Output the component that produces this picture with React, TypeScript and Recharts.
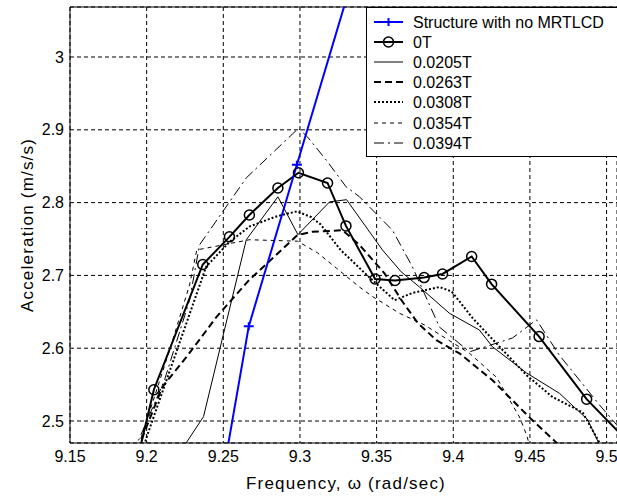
import React from 'react';
import { LineChart, Line, XAxis, YAxis, CartesianGrid, Legend, ReferenceLine, Label } from 'recharts';

// ---- axis ticks ----
const xTicks = [9.15, 9.2, 9.25, 9.3, 9.35, 9.4, 9.45, 9.5];
const xTickLabels = ['9.15', '9.2', '9.25', '9.3', '9.35', '9.4', '9.45', '9.5'];
const yTicks = [2.5, 2.6, 2.7, 2.8, 2.9, 3];
const yTickLabels = ['2.5', '2.6', '2.7', '2.8', '2.9', '3'];

const X_MIN = 9.15;
const X_MAX = 9.5068;
const Y_MIN = 2.4698;
const Y_MAX = 3.0687;

const seriesNames = ['Structure with no MRTLCD', '0T', '0.0205T', '0.0263T', '0.0308T', '0.0354T', '0.0394T'];

// ---- series values (frequency rad/sec, acceleration m/s/s) ----
const freqNoDamper = [9.235, 9.2666, 9.298, 9.3296];
const accNoDamper = [2.248, 2.63, 2.852, 3.075];

const freq0T = [9.1736, 9.2047, 9.2366, 9.254, 9.267, 9.2856, 9.299, 9.318, 9.33, 9.349, 9.362, 9.381, 9.393, 9.412, 9.425, 9.456, 9.487, 9.518];
const acc0T = [2.266, 2.543, 2.715, 2.753, 2.783, 2.82, 2.841, 2.827, 2.768, 2.695, 2.693, 2.697, 2.702, 2.726, 2.688, 2.616, 2.53, 2.463];

const freq0205 = [9.2214, 9.2371, 9.2497, 9.265, 9.2856, 9.2987, 9.3193, 9.3304, 9.3538, 9.366, 9.378, 9.3975, 9.417, 9.4256, 9.4478, 9.4693, 9.4876, 9.4987];
const acc0205 = [2.456, 2.506, 2.616, 2.749, 2.808, 2.756, 2.801, 2.804, 2.735, 2.705, 2.684, 2.648, 2.625, 2.602, 2.566, 2.538, 2.502, 2.453];

const freq0263 = [9.193, 9.1973, 9.2103, 9.226, 9.2456, 9.267, 9.2984, 9.308, 9.3278, 9.3388, 9.3551, 9.3662, 9.3767, 9.389, 9.404, 9.4256, 9.4497, 9.467, 9.475];
const acc0263 = [2.43, 2.478, 2.547, 2.588, 2.643, 2.694, 2.7555, 2.76, 2.762, 2.742, 2.703, 2.666, 2.635, 2.611, 2.593, 2.556, 2.505, 2.471, 2.455];

const freq0308 = [9.195, 9.2, 9.2388, 9.254, 9.267, 9.2845, 9.298, 9.3075, 9.3135, 9.3265, 9.3439, 9.3617, 9.3734, 9.391, 9.3989, 9.4128, 9.4302, 9.4478, 9.4647, 9.4843, 9.4954, 9.5];
const acc0308 = [2.44, 2.478, 2.712, 2.746, 2.767, 2.781, 2.788, 2.78, 2.77, 2.735, 2.7, 2.666, 2.676, 2.684, 2.678, 2.641, 2.602, 2.563, 2.533, 2.512, 2.47, 2.45];

const freq0354 = [9.19, 9.1953, 9.215, 9.228, 9.2327, 9.267, 9.2984, 9.3115, 9.3238, 9.3388, 9.3473, 9.3649, 9.3812, 9.4106, 9.4282, 9.4432, 9.4478, 9.452];
const acc0354 = [2.4, 2.47, 2.5975, 2.687, 2.735, 2.749, 2.747, 2.731, 2.71, 2.684, 2.671, 2.648, 2.632, 2.593, 2.56, 2.5055, 2.481, 2.45];

const freq0394 = [9.19, 9.194, 9.2116, 9.228, 9.2345, 9.265, 9.299, 9.305, 9.3173, 9.33, 9.3388, 9.3604, 9.3734, 9.391, 9.4106, 9.4386, 9.4543, 9.469, 9.4954, 9.5065, 9.515];
const acc0394 = [2.4, 2.47, 2.556, 2.666, 2.742, 2.834, 2.902, 2.89, 2.858, 2.822, 2.808, 2.762, 2.7115, 2.629, 2.595, 2.614, 2.639, 2.591, 2.522, 2.495, 2.47];

const toRows = (f: number[], a: number[]) => f.map((v, i) => ({ f: v, a: a[i] }));

const FONT = '"Liberation Sans", Arial, Helvetica, sans-serif';

const inRange = (p: any) =>
  p && p.f >= X_MIN && p.f <= X_MAX && p.a >= Y_MIN && p.a <= Y_MAX;

const CircleDot = (props: any) => {
  const { cx, cy, payload, index } = props;
  if (!inRange(payload) || cx == null || cy == null) return <g key={`c-${index}`} />;
  return <circle key={`c-${index}`} cx={cx} cy={cy} r={5} fill="none" stroke="#000" strokeWidth={1.5} />;
};

const PlusDot = (props: any) => {
  const { cx, cy, payload, index } = props;
  if (!inRange(payload) || cx == null || cy == null) return <g key={`p-${index}`} />;
  return (
    <path
      key={`p-${index}`}
      d={`M${cx - 5},${cy}H${cx + 5}M${cx},${cy - 4}V${cy + 4}`}
      stroke="#0000ff"
      strokeWidth={2}
      fill="none"
    />
  );
};

const legendStyles = [
  { stroke: '#0000ff', width: 2, dash: undefined as string | undefined, marker: 'plus' },
  { stroke: '#000', width: 2, dash: undefined, marker: 'circle' },
  { stroke: '#000', width: 1, dash: undefined, marker: '' },
  { stroke: '#000', width: 2, dash: '7 4', marker: '' },
  { stroke: '#000', width: 2, dash: '2 2', marker: '' },
  { stroke: '#000', width: 1, dash: '4 4', marker: '' },
  { stroke: '#000', width: 1, dash: '10 4 2 4', marker: '' },
];

const legendRowY = [15, 35, 55, 75, 95, 116, 136];

const LegendBox = () => (
  <svg width={251} height={151} style={{ display: 'block' }}>
    <rect x={0.5} y={0.5} width={300} height={149} fill="#fff" stroke="#000" strokeWidth={1} />
    {seriesNames.map((name, i) => {
      const s = legendStyles[i];
      const y = legendRowY[i];
      return (
        <g key={name}>
          <line x1={8} x2={37} y1={y} y2={y} stroke={s.stroke} strokeWidth={s.width} strokeDasharray={s.dash} />
          {s.marker === 'circle' && <circle cx={22.5} cy={y} r={5} fill="none" stroke="#000" strokeWidth={1.5} />}
          {s.marker === 'plus' && (
            <path d={`M17.5,${y}H27.5M22.5,${y - 4}V${y + 4}`} stroke="#0000ff" strokeWidth={2} />
          )}
          <text x={47} y={y + 5.5} fontSize={16} fontFamily={FONT} fill="#000">
            {name}
          </text>
        </g>
      );
    })}
  </svg>
);

export default function App() {
  const lines = [
    { key: 'nod', data: toRows(freqNoDamper, accNoDamper), stroke: '#0000ff', w: 2, dash: undefined as string | undefined, dot: PlusDot },
    { key: 't0', data: toRows(freq0T, acc0T), stroke: '#000', w: 2, dash: undefined, dot: CircleDot },
    { key: 't0205', data: toRows(freq0205, acc0205), stroke: '#000', w: 1, dash: undefined, dot: null },
    { key: 't0263', data: toRows(freq0263, acc0263), stroke: '#000', w: 2, dash: '7 4', dot: null },
    { key: 't0308', data: toRows(freq0308, acc0308), stroke: '#000', w: 2, dash: '2 2', dot: null },
    { key: 't0354', data: toRows(freq0354, acc0354), stroke: '#000', w: 1, dash: '4 4', dot: null },
    { key: 't0394', data: toRows(freq0394, acc0394), stroke: '#000', w: 1, dash: '10 4 2 4', dot: null },
  ];
  // draw order: thin lines first, then thick, then blue on top
  const order = ['t0205', 't0354', 't0394', 't0263', 't0308', 't0', 'nod'];

  return (
    <div style={{ position: 'absolute', left: 0, top: 0, width: 617, height: 497, overflow: 'hidden', background: '#fff' }}>
      <LineChart width={617} height={497} margin={{ top: 7, right: 0, bottom: 0, left: 0 }}>
        <CartesianGrid stroke="#000" strokeDasharray="4 3" strokeWidth={1} />
        <XAxis
          type="number"
          dataKey="f"
          domain={[X_MIN, X_MAX]}
          allowDataOverflow
          ticks={xTicks}
          tickFormatter={(v: number) => xTickLabels[xTicks.indexOf(v)] ?? String(v)}
          height={54}
          tickLine={false}
          axisLine={{ stroke: '#000', strokeWidth: 1 }}
          tick={{ fontSize: 16, fill: '#000', fontFamily: FONT }}
          tickSize={6}
          tickMargin={2}
        >
          <Label
            content={() => (
              <text x={346} y={489} textAnchor="middle" fontSize={17} letterSpacing={1.2} fontFamily={FONT} fill="#000">
                Frequency, ω (rad/sec)
              </text>
            )}
          />
        </XAxis>
        <YAxis
          type="number"
          dataKey="a"
          domain={[Y_MIN, Y_MAX]}
          allowDataOverflow
          ticks={yTicks}
          tickFormatter={(v: number) => yTickLabels[yTicks.indexOf(v)] ?? String(v)}
          width={70}
          tickLine={false}
          axisLine={{ stroke: '#000', strokeWidth: 1 }}
          tick={{ fontSize: 16, fill: '#000', fontFamily: FONT }}
          tickSize={6}
          tickMargin={0}
        >
          <Label
            content={() => (
              <text
                transform="translate(33,225) rotate(-90)"
                x={0}
                y={0}
                textAnchor="middle"
                fontSize={17}
                letterSpacing={1.2}
                fontFamily={FONT}
                fill="#000"
              >
                Acceleration (m/s/s)
              </text>
            )}
          />
        </YAxis>
        <ReferenceLine y={Y_MAX} stroke="#000" strokeWidth={1} />
        {order.map((k) => {
          const l = lines.find((x) => x.key === k)!;
          return (
            <Line
              key={l.key}
              data={l.data}
              dataKey="a"
              type="linear"
              stroke={l.stroke}
              strokeWidth={l.w}
              strokeDasharray={l.dash}
              dot={l.dot ? (l.dot as any) : false}
              activeDot={false}
              isAnimationActive={false}
              legendType="none"
            />
          );
        })}
        <Legend
          layout="vertical"
          align="center"
          verticalAlign="middle"
          content={() => <LegendBox />}
          wrapperStyle={{ position: 'absolute', left: 366, top: 7, width: 251, height: 151 }}
        />
      </LineChart>
    </div>
  );
}
